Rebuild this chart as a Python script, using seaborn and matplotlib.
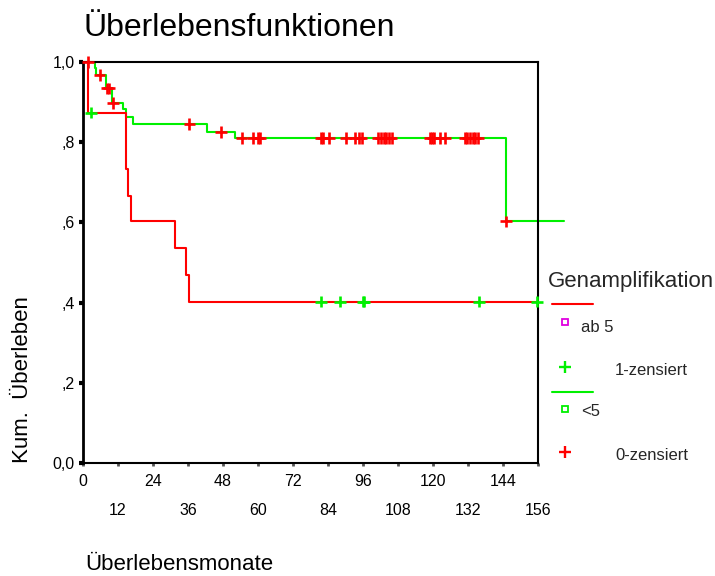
import numpy as np
import pandas as pd
import matplotlib
matplotlib.use("Agg")
import matplotlib.pyplot as plt
from matplotlib.lines import Line2D
import seaborn as sns

# Kaplan-Meier steps per group: event times (months) and survival after each event
ab5_event_t = [1.8, 14.7, 15.5, 16.4, 31.6, 35.3, 36.3]
ab5_surv = [0.874, 0.733, 0.667, 0.604, 0.536, 0.469, 0.4025]
ab5_censored_t = [2.7, 81.6, 88.1, 96.0, 96.5, 135.8, 155.7]
ab5_last_t = 155.7

lt5_event_t = [4.0, 4.6, 7.8, 9.9, 13.6, 14.8, 17.3, 42.4, 52.2, 145.0]
lt5_surv = [0.984, 0.9675, 0.934, 0.898, 0.882, 0.862, 0.846, 0.826, 0.810, 0.6025]
lt5_censored_t = [1.7, 5.7, 8.2, 8.9, 10.2, 36.5, 47.3, 54.4, 58.3, 60.0, 60.8,
                  81.5, 82.2, 84.4, 90.2, 93.2, 94.7, 95.5,
                  101.2, 102.2, 103.1, 104.0, 104.9, 105.8,
                  119.0, 119.8, 120.3, 122.4, 124.1,
                  131.0, 131.8, 132.7, 133.6, 134.5, 135.5, 145.0]
lt5_last_t = 165.0

group_names = ["ab 5", "<5"]
legend_title = "Genamplifikation"
censor_names = ["1-zensiert", "0-zensiert"]
x_major = [0, 24, 48, 72, 96, 120, 144]
x_minor = [12, 36, 60, 84, 108, 132, 156]
y_ticks = [0.0, 0.2, 0.4, 0.6, 0.8, 1.0]
y_tick_labels = ["0,0", ",2", ",4", ",6", ",8", "1,0"]

RED = "#ff0000"
GREEN = "#00f000"
MAGENTA = "#e000e0"


def surv_at(t, ev_t, ev_s):
    idx = np.searchsorted(ev_t, t, side="right")
    return 1.0 if idx == 0 else ev_s[idx - 1]


def curve_frame(name, ev_t, ev_s, last_t):
    t = [0.0] + list(ev_t) + [last_t]
    s = [1.0] + list(ev_s) + [ev_s[-1]]
    return pd.DataFrame({"t": t, "s": s, "group": name})


def censor_frame(name, cens_t, ev_t, ev_s):
    s = [surv_at(c, ev_t, ev_s) for c in cens_t]
    return pd.DataFrame({"t": cens_t, "s": s, "group": name})


curves = pd.concat([
    curve_frame("<5", lt5_event_t, lt5_surv, lt5_last_t),
    curve_frame("ab 5", ab5_event_t, ab5_surv, ab5_last_t),
], ignore_index=True)

censored = pd.concat([
    censor_frame("<5", lt5_censored_t, lt5_event_t, lt5_surv),
    censor_frame("ab 5", ab5_censored_t, ab5_event_t, ab5_surv),
], ignore_index=True)

sns.set_theme(style="white")
plt.rcParams["font.family"] = ["Liberation Sans", "DejaVu Sans"]

W, H = 715, 576
fig = plt.figure(figsize=(W / 100, H / 100), dpi=100)
L, R, T, B = 83, 538, 62, 463
ax = fig.add_axes([L / W, 1 - B / H, (R - L) / W, (B - T) / H])

# survival curves
sns.lineplot(data=curves, x="t", y="s", hue="group", hue_order=["<5", "ab 5"],
             palette={"ab 5": RED, "<5": GREEN}, drawstyle="steps-post",
             estimator=None, sort=False, legend=False, linewidth=1.5,
             clip_on=False, ax=ax)

# censoring marks (colours follow the SPSS legend: green for group "ab 5", red for "<5")
sns.scatterplot(data=censored, x="t", y="s", hue="group", hue_order=["<5", "ab 5"],
                palette={"ab 5": GREEN, "<5": RED}, marker="+", s=70,
                linewidth=1.9, legend=False, clip_on=False, zorder=4, ax=ax)

ax.set_xlim(0, 156)
ax.set_ylim(0, 1.0)
ax.set_xticks(x_major)
ax.set_xticks(x_minor, minor=True)
ax.set_xticklabels([str(v) for v in x_major])
ax.set_xticklabels([str(v) for v in x_minor], minor=True)
ax.set_yticks(y_ticks)
ax.set_yticklabels(y_tick_labels)

ax.tick_params(axis="x", which="major", length=2, width=2, color="#555555",
               pad=6, labelsize=11.5, labelcolor="black", direction="out", bottom=True)
ax.tick_params(axis="x", which="minor", length=2, width=2, color="#555555",
               pad=27, labelsize=11.5, labelcolor="black", direction="out", bottom=True)
ax.tick_params(axis="y", length=3, width=3, color="black", pad=3,
               labelsize=11.5, labelcolor="black", direction="out", left=True)

for side, sp in ax.spines.items():
    sp.set_visible(True)
    sp.set_color("black")
    sp.set_linewidth(1.5)
ax.spines["left"].set_linewidth(2.0)

ax.set_title("Überlebensfunktionen", loc="left", fontsize=23, pad=19, color="black")

ax.set_xlabel("Überlebensmonate", fontsize=16, loc="left", color="black")
ax.xaxis.set_label_coords((85 - L) / (R - L), (B - 565) / (B - T))
ax.xaxis.label.set_verticalalignment("center")

ax.set_ylabel("Kum.  Überleben", fontsize=16, loc="bottom", color="black")
ax.yaxis.set_label_coords((22 - L) / (R - L), 0.0)
ax.yaxis.label.set_horizontalalignment("left")
ax.yaxis.label.set_verticalalignment("center")


def fx(x):
    return x / W


def fy(y):
    return 1 - y / H


# legend block drawn in figure pixel positions
fig.text(fx(548), fy(287), legend_title, fontsize=16, va="baseline", ha="left")

fig.add_artist(Line2D([fx(552), fx(593)], [fy(303.5)] * 2, color=RED, lw=1.5,
                      transform=fig.transFigure))
fig.add_artist(Line2D([fx(564.5)], [fy(321.5)], marker="s", ms=4.5, mfc="none",
                      mec=MAGENTA, mew=1.3, ls="none", transform=fig.transFigure))
fig.text(fx(581), fy(331.5), group_names[0], fontsize=12, va="baseline", ha="left")

fig.add_artist(Line2D([fx(565)], [fy(366.5)], marker="+", ms=8, mec=GREEN,
                      mew=1.7, ls="none", transform=fig.transFigure))
fig.text(fx(615), fy(375), censor_names[0], fontsize=12, va="baseline", ha="left")

fig.add_artist(Line2D([fx(552), fx(593)], [fy(391.5)] * 2, color=GREEN, lw=1.5,
                      transform=fig.transFigure))
fig.add_artist(Line2D([fx(564.5)], [fy(409)], marker="s", ms=4.5, mfc="none",
                      mec=GREEN, mew=1.3, ls="none", transform=fig.transFigure))
fig.text(fx(581), fy(416.5), group_names[1], fontsize=12, va="baseline", ha="left")

fig.add_artist(Line2D([fx(565)], [fy(452)], marker="+", ms=8, mec=RED,
                      mew=1.7, ls="none", transform=fig.transFigure))
fig.text(fx(615), fy(460), censor_names[1], fontsize=12, va="baseline", ha="left")

fig.savefig("out.png", dpi=100, facecolor="white")
